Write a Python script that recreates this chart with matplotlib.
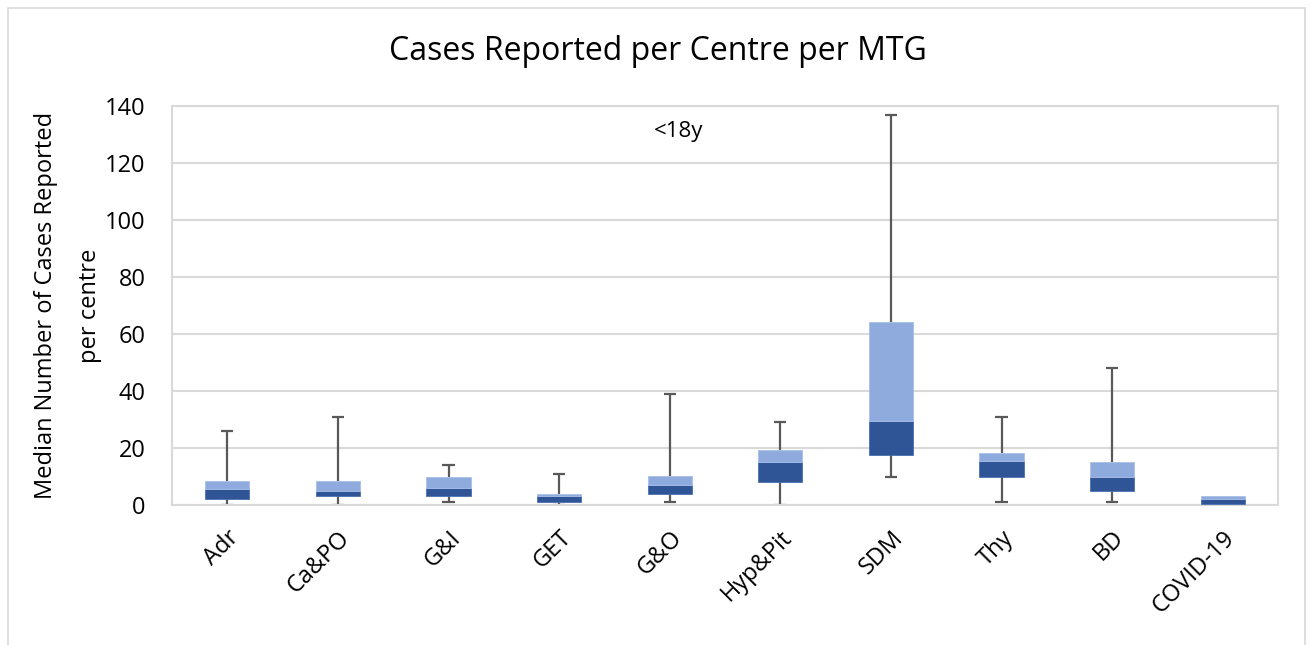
import matplotlib

matplotlib.use("Agg")
import matplotlib.pyplot as plt
from matplotlib.patches import Rectangle

plt.rcParams["font.family"] = ["Open Sans", "DejaVu Sans"]

# 区分ごとの箱ひげ値（最小・Q1・中央値・Q3・最大）
categories = ["Adr", "Ca&PO", "G&I", "GET", "G&O", "Hyp&Pit", "SDM", "Thy", "BD", "COVID-19"]
mins = [0, 0, 1, 0, 1, 0, 10, 1, 1, 0]
q1 = [2, 3, 3, 1, 4, 8, 17.5, 10, 5, 0.5]
medians = [5.5, 5, 6, 3, 7, 15, 29.5, 15.5, 10, 2]
q3 = [8.3, 8.3, 10, 4, 10.3, 19.2, 64.2, 18.2, 15, 3]
maxs = [26, 31, 14, 11, 39, 29, 137, 31, 48, 3]
yticks = [0, 20, 40, 60, 80, 100, 120, 140]

DARK = "#2F5597"
LIGHT = "#8FAADC"
WHISK = "#595959"
GRID = "#D9D9D9"

fig = plt.figure(figsize=(13.11, 6.45), dpi=100)
ax = fig.add_axes([172 / 1311, 1 - 505 / 645, (1278 - 172) / 1311, (505 - 106) / 645])

x = list(range(len(categories)))
w = 0.4
for i in x:
    if maxs[i] > q3[i]:
        ax.vlines(i, q3[i], maxs[i], color=WHISK, lw=1.6, zorder=2)
        ax.hlines(maxs[i], i - 0.055, i + 0.055, color=WHISK, lw=1.6, zorder=2)
    if mins[i] < q1[i]:
        ax.vlines(i, mins[i], q1[i], color=WHISK, lw=1.6, zorder=2)
        ax.hlines(mins[i], i - 0.055, i + 0.055, color=WHISK, lw=1.6, zorder=2)
ax.bar(x, [m - a for m, a in zip(medians, q1)], bottom=q1, width=w,
       color=DARK, edgecolor="#4A6FB0", lw=0.6, zorder=3)
ax.bar(x, [b - m for b, m in zip(q3, medians)], bottom=medians, width=w,
       color=LIGHT, edgecolor="#A9BFE6", lw=0.6, zorder=3)

ax.set_xlim(-0.5, len(categories) - 0.5)
ax.set_ylim(0, 140)
ax.set_yticks(yticks)
ax.set_yticklabels([str(t) for t in yticks], fontsize=17)
ax.set_xticks(x)
ax.set_xticklabels(categories, rotation=45, ha="right", rotation_mode="anchor", fontsize=17)
ax.tick_params(axis="both", length=0)
ax.tick_params(axis="y", pad=19)
ax.tick_params(axis="x", pad=15)
ax.yaxis.grid(True, color=GRID, lw=1.5, zorder=0)
ax.set_axisbelow(True)
for s in ax.spines.values():
    s.set_color(GRID)
    s.set_linewidth(1.5)

ax.set_ylabel("Median Number of Cases Reported\nper centre", fontsize=17, labelpad=2,
              linespacing=2.1)
ax.text(4.08, 131, "<18y", fontsize=16, ha="center", va="center")
fig.text(658 / 1311, 1 - 52 / 645, "Cases Reported per Centre per MTG", fontsize=23,
         ha="center", va="center")

fig.patches.append(Rectangle((8 / 1311, -0.01), 1297 / 1311, 1 - 8 / 645 + 0.01,
                             transform=fig.transFigure, fill=False, edgecolor=GRID, lw=1.2))

plt.savefig("out.png", dpi=100)
plt.close(fig)
